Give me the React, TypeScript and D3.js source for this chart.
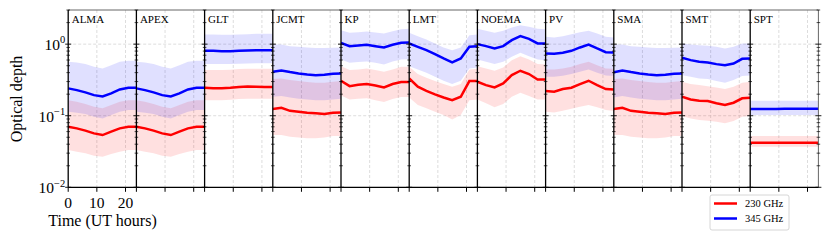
import { useEffect, useRef } from "react";
import * as d3 from "d3";

// UT hours where the curves are sampled
const hours = [0, 3, 6, 9, 12, 15, 18, 21, 23.8];

const stations = ["ALMA", "APEX", "GLT", "JCMT", "KP", "LMT", "NOEMA", "PV", "SMA", "SMT", "SPT"];

// median optical depth + lower / upper band, 230 GHz and 345 GHz
const ALMA_230 = [0.0702, 0.0666, 0.0619, 0.0567, 0.0537, 0.0598, 0.0666, 0.0702, 0.0702];
const ALMA_230_LO = [0.0332, 0.0315, 0.0298, 0.0277, 0.0268, 0.0292, 0.0315, 0.0332, 0.0332];
const ALMA_230_HI = [0.165, 0.157, 0.146, 0.134, 0.127, 0.141, 0.157, 0.165, 0.165];
const ALMA_345 = [0.241, 0.228, 0.212, 0.194, 0.186, 0.205, 0.233, 0.246, 0.246];
const ALMA_345_LO = [0.114, 0.11, 0.106, 0.0968, 0.0918, 0.102, 0.114, 0.12, 0.12];
const ALMA_345_HI = [0.567, 0.555, 0.526, 0.483, 0.457, 0.509, 0.567, 0.585, 0.585];

const APEX_230 = [0.0702, 0.0666, 0.0619, 0.0567, 0.0537, 0.0598, 0.0666, 0.0702, 0.0702];
const APEX_230_LO = [0.0332, 0.0315, 0.0298, 0.0277, 0.0268, 0.0292, 0.0315, 0.0332, 0.0332];
const APEX_230_HI = [0.165, 0.157, 0.146, 0.134, 0.127, 0.141, 0.157, 0.165, 0.165];
const APEX_345 = [0.241, 0.228, 0.212, 0.194, 0.186, 0.205, 0.233, 0.246, 0.246];
const APEX_345_LO = [0.114, 0.11, 0.106, 0.0968, 0.0918, 0.102, 0.114, 0.12, 0.12];
const APEX_345_HI = [0.567, 0.555, 0.526, 0.483, 0.457, 0.509, 0.567, 0.585, 0.585];

const GLT_230 = [0.246, 0.243, 0.243, 0.246, 0.251, 0.257, 0.254, 0.251, 0.251];
const GLT_230_LO = [0.165, 0.165, 0.165, 0.167, 0.171, 0.173, 0.173, 0.173, 0.173];
const GLT_230_HI = [0.434, 0.434, 0.434, 0.438, 0.448, 0.453, 0.453, 0.453, 0.453];
const GLT_345 = [0.807, 0.807, 0.798, 0.798, 0.807, 0.816, 0.825, 0.825, 0.825];
const GLT_345_LO = [0.526, 0.526, 0.526, 0.526, 0.532, 0.537, 0.543, 0.543, 0.543];
const GLT_345_HI = [1.364, 1.364, 1.349, 1.349, 1.364, 1.379, 1.394, 1.394, 1.394];

const JCMT_230 = [0.124, 0.129, 0.117, 0.114, 0.11, 0.108, 0.106, 0.11, 0.111];
const JCMT_230_LO = [0.0537, 0.0537, 0.0509, 0.0498, 0.0483, 0.0483, 0.0498, 0.052, 0.052];
const JCMT_230_HI = [0.325, 0.332, 0.315, 0.305, 0.295, 0.289, 0.289, 0.298, 0.305];
const JCMT_345 = [0.411, 0.429, 0.407, 0.39, 0.377, 0.369, 0.373, 0.386, 0.39];
const JCMT_345_LO = [0.184, 0.188, 0.18, 0.173, 0.169, 0.165, 0.165, 0.169, 0.173];
const JCMT_345_HI = [0.989, 0.989, 0.938, 0.918, 0.899, 0.88, 0.88, 0.889, 0.899];

const KP_230 = [0.308, 0.259, 0.271, 0.277, 0.265, 0.248, 0.277, 0.295, 0.295];
const KP_230_LO = [0.192, 0.169, 0.173, 0.175, 0.165, 0.155, 0.171, 0.182, 0.182];
const KP_230_HI = [0.493, 0.434, 0.443, 0.457, 0.434, 0.411, 0.443, 0.483, 0.483];
const KP_345 = [1.044, 0.938, 0.958, 0.979, 0.938, 0.899, 0.979, 1.044, 1.055];
const KP_345_LO = [0.611, 0.549, 0.561, 0.573, 0.549, 0.52, 0.573, 0.611, 0.617];
const KP_345_HI = [1.568, 1.439, 1.47, 1.502, 1.455, 1.409, 1.518, 1.62, 1.637];

const LMT_230 = [0.332, 0.254, 0.223, 0.199, 0.18, 0.165, 0.184, 0.305, 0.305];
const LMT_230_LO = [0.18, 0.141, 0.127, 0.114, 0.102, 0.0889, 0.102, 0.165, 0.169];
const LMT_230_HI = [0.483, 0.382, 0.339, 0.305, 0.277, 0.254, 0.277, 0.443, 0.453];
const LMT_345 = [1.022, 0.918, 0.825, 0.725, 0.631, 0.555, 0.631, 0.918, 0.938];
const LMT_345_LO = [0.493, 0.443, 0.398, 0.35, 0.308, 0.277, 0.308, 0.457, 0.473];
const LMT_345_HI = [1.439, 1.293, 1.162, 1.022, 0.899, 0.825, 0.899, 1.335, 1.364];

const NOEMA_230 = [0.298, 0.268, 0.248, 0.283, 0.369, 0.425, 0.382, 0.321, 0.321];
const NOEMA_230_LO = [0.169, 0.149, 0.131, 0.146, 0.184, 0.209, 0.188, 0.169, 0.169];
const NOEMA_230_HI = [0.493, 0.457, 0.425, 0.473, 0.598, 0.68, 0.611, 0.526, 0.52];
const NOEMA_345 = [1.0, 0.938, 0.87, 0.938, 1.137, 1.293, 1.187, 1.022, 1.022];
const NOEMA_345_LO = [0.611, 0.567, 0.526, 0.567, 0.666, 0.757, 0.68, 0.611, 0.598];
const NOEMA_345_HI = [1.637, 1.535, 1.439, 1.535, 1.708, 1.841, 1.745, 1.637, 1.62];

const PV_230 = [0.221, 0.216, 0.236, 0.246, 0.277, 0.308, 0.268, 0.236, 0.233];
const PV_230_LO = [0.114, 0.111, 0.117, 0.125, 0.134, 0.141, 0.131, 0.12, 0.116];
const PV_230_HI = [0.443, 0.443, 0.457, 0.483, 0.526, 0.567, 0.509, 0.457, 0.453];
const PV_345 = [0.741, 0.733, 0.757, 0.807, 0.899, 0.989, 0.87, 0.773, 0.765];
const PV_345_LO = [0.35, 0.35, 0.362, 0.382, 0.411, 0.443, 0.398, 0.365, 0.358];
const PV_345_HI = [1.266, 1.239, 1.293, 1.379, 1.47, 1.535, 1.409, 1.266, 1.239];

const SMA_230 = [0.124, 0.129, 0.117, 0.114, 0.11, 0.108, 0.106, 0.11, 0.111];
const SMA_230_LO = [0.0537, 0.0537, 0.0509, 0.0498, 0.0483, 0.0483, 0.0498, 0.052, 0.052];
const SMA_230_HI = [0.325, 0.332, 0.315, 0.305, 0.295, 0.289, 0.289, 0.298, 0.305];
const SMA_345 = [0.405, 0.429, 0.407, 0.39, 0.377, 0.369, 0.373, 0.386, 0.39];
const SMA_345_LO = [0.18, 0.188, 0.18, 0.173, 0.169, 0.165, 0.165, 0.169, 0.173];
const SMA_345_HI = [0.989, 0.989, 0.938, 0.918, 0.899, 0.88, 0.88, 0.889, 0.899];

const SMT_230 = [0.184, 0.169, 0.162, 0.16, 0.149, 0.141, 0.152, 0.175, 0.178];
const SMT_230_LO = [0.0989, 0.0918, 0.087, 0.0852, 0.0825, 0.0782, 0.0842, 0.0968, 0.0989];
const SMT_230_HI = [0.298, 0.277, 0.268, 0.259, 0.248, 0.236, 0.254, 0.289, 0.298];
const SMT_345 = [0.645, 0.598, 0.567, 0.555, 0.526, 0.509, 0.537, 0.624, 0.631];
const SMT_345_LO = [0.369, 0.35, 0.332, 0.325, 0.305, 0.289, 0.315, 0.358, 0.365];
const SMT_345_HI = [1.022, 0.989, 0.968, 0.948, 0.918, 0.87, 0.918, 1.022, 1.022];

const SPT_230 = [0.042, 0.042, 0.042, 0.042, 0.042, 0.042, 0.042, 0.042, 0.042];
const SPT_230_LO = [0.037, 0.037, 0.037, 0.037, 0.037, 0.037, 0.037, 0.037, 0.037];
const SPT_230_HI = [0.052, 0.052, 0.052, 0.052, 0.052, 0.052, 0.052, 0.052, 0.052];
const SPT_345 = [0.124, 0.124, 0.124, 0.124, 0.125, 0.125, 0.125, 0.125, 0.125];
const SPT_345_LO = [0.102, 0.102, 0.102, 0.102, 0.102, 0.102, 0.102, 0.102, 0.102];
const SPT_345_HI = [0.162, 0.162, 0.162, 0.162, 0.162, 0.162, 0.162, 0.162, 0.162];

const xTicks = [0, 10, 20];
const yMajor = [0.01, 0.1, 1];
const yTickLabels = [
  { v: 0.01, exp: "\u22122" },
  { v: 0.1, exp: "\u22121" },
  { v: 1, exp: "0" },
];
const legendItems = [
  { label: "230 GHz", color: "#ff0000" },
  { label: "345 GHz", color: "#0000ff" },
];

const table = [
  [ALMA_230, ALMA_230_LO, ALMA_230_HI, ALMA_345, ALMA_345_LO, ALMA_345_HI],
  [APEX_230, APEX_230_LO, APEX_230_HI, APEX_345, APEX_345_LO, APEX_345_HI],
  [GLT_230, GLT_230_LO, GLT_230_HI, GLT_345, GLT_345_LO, GLT_345_HI],
  [JCMT_230, JCMT_230_LO, JCMT_230_HI, JCMT_345, JCMT_345_LO, JCMT_345_HI],
  [KP_230, KP_230_LO, KP_230_HI, KP_345, KP_345_LO, KP_345_HI],
  [LMT_230, LMT_230_LO, LMT_230_HI, LMT_345, LMT_345_LO, LMT_345_HI],
  [NOEMA_230, NOEMA_230_LO, NOEMA_230_HI, NOEMA_345, NOEMA_345_LO, NOEMA_345_HI],
  [PV_230, PV_230_LO, PV_230_HI, PV_345, PV_345_LO, PV_345_HI],
  [SMA_230, SMA_230_LO, SMA_230_HI, SMA_345, SMA_345_LO, SMA_345_HI],
  [SMT_230, SMT_230_LO, SMT_230_HI, SMT_345, SMT_345_LO, SMT_345_HI],
  [SPT_230, SPT_230_LO, SPT_230_HI, SPT_345, SPT_345_LO, SPT_345_HI],
];

const FONT = "'Liberation Serif', 'DejaVu Serif', serif";

const App = () => {
  const svgRef = useRef(null);

  useEffect(() => {
    const width = 830;
    const height = 242;
    const left = 68.2;
    const right = 818.4;
    const top = 10;
    const bottom = 187.3;
    const pw = (right - left) / stations.length;

    d3.select(svgRef.current).selectAll("*").remove();
    const svg = d3.select(svgRef.current).attr("width", width).attr("height", height);

    const y = d3.scaleLog().domain([0.01, 3]).range([bottom, top]);
    const minor: number[] = [];
    [0.01, 0.1, 1].forEach((d) => {
      for (let k = 2; k <= 9; k++) if (k * d <= 3) minor.push(k * d);
    });

    const defs = svg.append("defs");
    const gridColor = "#d4d4d4";

    // horizontal grid
    svg
      .selectAll("line.hgrid")
      .data([0.1, 1])
      .enter()
      .append("line")
      .attr("x1", left)
      .attr("x2", right)
      .attr("y1", (d) => y(d))
      .attr("y2", (d) => y(d))
      .attr("stroke", gridColor)
      .attr("stroke-width", 0.8)
      .attr("stroke-dasharray", "3,2");

    stations.forEach((name, i) => {
      const x0 = left + i * pw;
      const x = d3.scaleLinear().domain([0, 23.8]).range([x0, x0 + pw]);
      const [r, rLo, rHi, b, bLo, bHi] = table[i];

      defs
        .append("clipPath")
        .attr("id", `clip${i}`)
        .append("rect")
        .attr("x", x0)
        .attr("y", top)
        .attr("width", pw)
        .attr("height", bottom - top);

      const g = svg.append("g").attr("clip-path", `url(#clip${i})`);

      // vertical grid
      g.selectAll("line.vgrid")
        .data([10, 20])
        .enter()
        .append("line")
        .attr("x1", (d) => x(d))
        .attr("x2", (d) => x(d))
        .attr("y1", top)
        .attr("y2", bottom)
        .attr("stroke", gridColor)
        .attr("stroke-width", 0.8)
        .attr("stroke-dasharray", "3,2");

      const area = (lo: number[], hi: number[]) =>
        d3
          .area<number>()
          .x((d) => x(d))
          .y0((_, j) => y(lo[j]))
          .y1((_, j) => y(hi[j]))(hours);
      const line = (v: number[]) =>
        d3
          .line<number>()
          .x((d) => x(d))
          .y((_, j) => y(v[j]))(hours);

      g.append("path").attr("d", area(rLo, rHi)).attr("fill", "#ff0000").attr("fill-opacity", 0.12);
      g.append("path").attr("d", area(bLo, bHi)).attr("fill", "#0000ff").attr("fill-opacity", 0.12);
      g.append("path")
        .attr("d", line(r))
        .attr("fill", "none")
        .attr("stroke", "#ff0000")
        .attr("stroke-width", 2.5);
      g.append("path")
        .attr("d", line(b))
        .attr("fill", "none")
        .attr("stroke", "#0000ff")
        .attr("stroke-width", 2.5);

      // x ticks
      svg
        .selectAll(`line.xt${i}`)
        .data(xTicks)
        .enter()
        .append("line")
        .attr("x1", (d) => x(d))
        .attr("x2", (d) => x(d))
        .attr("y1", bottom)
        .attr("y2", bottom + 4.5)
        .attr("stroke", "#000")
        .attr("stroke-width", 1);

      if (i === 0) {
        svg
          .selectAll("text.xl")
          .data(xTicks)
          .enter()
          .append("text")
          .attr("x", (d) => x(d))
          .attr("y", 207.5)
          .attr("text-anchor", "middle")
          .attr("font-family", FONT)
          .attr("font-size", 15.5)
          .text((d) => d);
      }

      // station name
      svg
        .append("text")
        .attr("x", x0 + 3.5)
        .attr("y", 23)
        .attr("font-family", FONT)
        .attr("font-size", 11)
        .text(name);
    });

    // frame: top and right in grey, left spines and bottom in black
    svg
      .append("line")
      .attr("x1", left)
      .attr("x2", right)
      .attr("y1", top)
      .attr("y2", top)
      .attr("stroke", "#666")
      .attr("stroke-width", 1);
    svg
      .append("line")
      .attr("x1", right)
      .attr("x2", right)
      .attr("y1", top)
      .attr("y2", bottom)
      .attr("stroke", "#666")
      .attr("stroke-width", 1);
    svg
      .append("line")
      .attr("x1", left)
      .attr("x2", right)
      .attr("y1", bottom)
      .attr("y2", bottom)
      .attr("stroke", "#000")
      .attr("stroke-width", 1.3);

    const edges = d3.range(stations.length + 1).map((i) => left + i * pw);
    edges.forEach((xe, i) => {
      if (i < stations.length) {
        svg
          .append("line")
          .attr("x1", xe)
          .attr("x2", xe)
          .attr("y1", top)
          .attr("y2", bottom)
          .attr("stroke", "#000")
          .attr("stroke-width", 1.3);
      }
      svg
        .selectAll(`line.ymaj${i}`)
        .data(yMajor)
        .enter()
        .append("line")
        .attr("x1", xe - 3)
        .attr("x2", xe + 3)
        .attr("y1", (d) => y(d))
        .attr("y2", (d) => y(d))
        .attr("stroke", "#000")
        .attr("stroke-width", 0.9);
      svg
        .selectAll(`line.ymin${i}`)
        .data(minor)
        .enter()
        .append("line")
        .attr("x1", xe - 1.8)
        .attr("x2", xe + 1.8)
        .attr("y1", (d) => y(d))
        .attr("y2", (d) => y(d))
        .attr("stroke", "#000")
        .attr("stroke-width", 0.7);
    });

    // y tick labels 10^n
    const yl = svg
      .selectAll("text.yl")
      .data(yTickLabels)
      .enter()
      .append("text")
      .attr("x", left - 3)
      .attr("y", (d) => y(d.v) + 5.8)
      .attr("text-anchor", "end")
      .attr("font-family", FONT)
      .attr("font-size", 15.5);
    yl.append("tspan").text("10");
    yl.append("tspan")
      .attr("dy", -6.5)
      .attr("font-size", 10.5)
      .text((d) => d.exp);

    // axis titles
    svg
      .append("text")
      .attr("transform", `translate(22,99) rotate(-90)`)
      .attr("text-anchor", "middle")
      .attr("font-family", FONT)
      .attr("font-size", 16)
      .text("Optical depth");
    svg
      .append("text")
      .attr("x", 102.5)
      .attr("y", 226)
      .attr("text-anchor", "middle")
      .attr("font-family", FONT)
      .attr("font-size", 16)
      .text("Time (UT hours)");

    // legend
    const lg = svg.append("g");
    lg.append("rect")
      .attr("x", 710)
      .attr("y", 195)
      .attr("width", 79)
      .attr("height", 35)
      .attr("rx", 2)
      .attr("fill", "#fff")
      .attr("stroke", "#cccccc")
      .attr("stroke-width", 0.8);
    legendItems.forEach((d, i) => {
      const ly = 203.5 + i * 15;
      lg.append("line")
        .attr("x1", 714)
        .attr("x2", 737)
        .attr("y1", ly)
        .attr("y2", ly)
        .attr("stroke", d.color)
        .attr("stroke-width", 2.5);
      lg.append("text")
        .attr("x", 745)
        .attr("y", ly + 3.6)
        .attr("font-family", FONT)
        .attr("font-size", 10.5)
        .text(d.label);
    });
  }, []);

  return (
    <div style={{ position: "absolute", left: 0, top: 0 }}>
      <svg ref={svgRef}></svg>
    </div>
  );
};

export default App;
